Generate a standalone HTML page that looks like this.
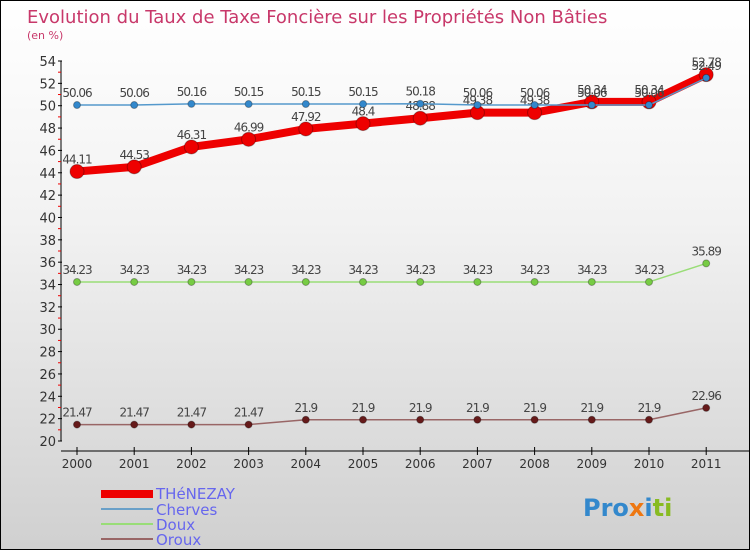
<!DOCTYPE html>
<html><head><meta charset="utf-8"><style>
body{margin:0}
#c{position:relative;width:748px;height:548px;border:1px solid #000;background:linear-gradient(#fff 0%,#f2f2f2 40%,#d0d0d0 100%);font-family:"DejaVu Sans","Liberation Sans",sans-serif;overflow:hidden}
</style></head><body>
<div id="c">
<svg id="s" width="748" height="548" xmlns="http://www.w3.org/2000/svg" style="position:absolute;left:0;top:0">
<text x="26" y="22" font-size="18" fill="#c8386a">Evolution du Taux de Taxe Foncière sur les Propriétés Non Bâties</text>
<text x="26" y="38" font-size="11" fill="#c8386a">(en %)</text>
<g id="axes"></g><g id="series"></g>
<g font-size="15" fill="#6666ee">
<rect x="100" y="489" width="52" height="8" fill="#ee0000"/><text x="155" y="498" fill="#6666ee">THéNEZAY</text>
<line x1="100" y1="508" x2="152" y2="508" stroke="#6aa0c8" stroke-width="2"/><text x="155" y="514" fill="#6666ee">Cherves</text>
<line x1="100" y1="523" x2="152" y2="523" stroke="#99dd77" stroke-width="2"/><text x="155" y="529" fill="#6666ee">Doux</text>
<line x1="100" y1="538" x2="152" y2="538" stroke="#996666" stroke-width="2"/><text x="155" y="544" fill="#6666ee">Oroux</text>
</g>
<text x="582" y="515" font-size="24" font-weight="bold"><tspan fill="#3388cc">Pro</tspan><tspan fill="#ee7711">x</tspan><tspan fill="#3388cc">i</tspan><tspan fill="#88bb22">ti</tspan></text>
</svg>
</div>
<script>
const years=["2000","2001","2002","2003","2004","2005","2006","2007","2008","2009","2010","2011"];
const thenezay=[44.11,44.53,46.31,46.99,47.92,48.4,48.88,49.38,49.38,50.34,50.34,52.78];
const cherves=[50.06,50.06,50.16,50.15,50.15,50.15,50.18,50.06,50.06,50.06,50.06,52.49];
const doux=[34.23,34.23,34.23,34.23,34.23,34.23,34.23,34.23,34.23,34.23,34.23,35.89];
const oroux=[21.47,21.47,21.47,21.47,21.9,21.9,21.9,21.9,21.9,21.9,21.9,22.96];
const yTicks=[20,22,24,26,28,30,32,34,36,38,40,42,44,46,48,50,52,54];
const NS="http://www.w3.org/2000/svg";
const X=i=>76+i*57.2;
const Y=v=>440-(v-20)*(380/34);
function mk(t,a,p){const e=document.createElementNS(NS,t);for(const k in a)e.setAttribute(k,a[k]);p.appendChild(e);return e;}
const ax=document.getElementById('axes'),sg=document.getElementById('series');
let l=mk('line',{x1:60,y1:Y(54),x2:60,y2:Y(20),stroke:'#000'},ax);


yTicks.forEach(v=>{mk('line',{x1:57,y1:Y(v),x2:61,y2:Y(v),stroke:'#000'},ax);
mk('line',{x1:57,y1:Y(v+1),x2:60,y2:Y(v+1),stroke:v<54?'#e00':'none'},ax);
const t=mk('text',{x:55,y:Y(v)+5,'text-anchor':'end','font-size':13,fill:'#333'},ax);t.textContent=v;

});
let xl=mk('line',{x1:60,y1:450,x2:748,y2:450,stroke:'#000'},ax);


years.forEach((y,i)=>{mk('line',{x1:X(i),y1:446,x2:X(i),y2:454,stroke:'#000'},ax);
const t=mk('text',{x:X(i),y:467,'text-anchor':'middle','font-size':12,fill:'#333'},ax);t.textContent=y;

});
function series(d,name,col,w,r,dot){
const g=mk('g',{},sg);


mk('polyline',{points:d.map((v,i)=>X(i)+','+Y(v)).join(' '),fill:'none',stroke:col,'stroke-width':w,'stroke-linejoin':'round'},g);
d.forEach((v,i)=>{const c=mk('circle',{cx:X(i),cy:Y(v),r:r,fill:dot,stroke:'rgba(0,0,0,0.3)'},g);


const t=mk('text',{x:X(i),y:Y(v)-8,'text-anchor':'middle','font-size':12,fill:'#444','letter-spacing':'-1'},g);t.textContent=v;

});}
series(oroux,'oroux','#996666',1.5,3.5,'#661a1a');
series(doux,'doux','#99dd77',1.5,3.5,'#77cc44');
series(thenezay,'thenezay','#ee0000',8,7,'#ee0000');
series(cherves,'cherves','#5599cc',1.5,3.5,'#3388cc');
</script>
</body></html>
